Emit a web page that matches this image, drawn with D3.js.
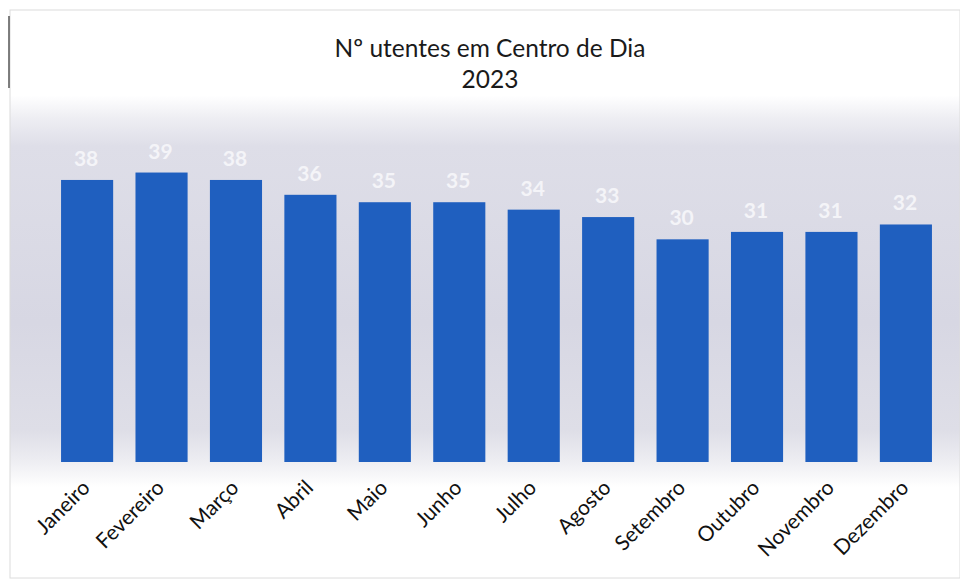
<!DOCTYPE html>
<html>
<head>
<meta charset="utf-8">
<script src="https://cdn.jsdelivr.net/npm/d3@7"></script>
<style>
  html, body { margin: 0; padding: 0; background: #ffffff; }
  svg { display: block; }
</style>
</head>
<body>
<svg id="chart" width="960" height="582"></svg>
<script>
const months = ["Janeiro","Fevereiro","Março","Abril","Maio","Junho","Julho","Agosto","Setembro","Outubro","Novembro","Dezembro"];
const values = [38,39,38,36,35,35,34,33,30,31,31,32];
const titleLines = ["Nº utentes em Centro de Dia","2023"];

const W = 960, H = 582;
const svg = d3.select("#chart");
const font = "Lato, 'Open Sans', 'Liberation Sans', sans-serif";

const defs = svg.append("defs");
const grad = defs.append("linearGradient").attr("id","bg").attr("x1",0).attr("y1",0).attr("x2",0).attr("y2",1);
[[0,"#ffffff"],[0.15,"#ffffff"],[0.19,"#eeeef3"],[0.24,"#dedee8"],[0.55,"#d7d7e3"],[0.74,"#dedee7"],[0.79,"#ececf1"],[0.84,"#ffffff"],[1,"#ffffff"]]
  .forEach(([o,c]) => grad.append("stop").attr("offset",o).attr("stop-color",c));

svg.append("rect").attr("x",10).attr("y",10).attr("width",W-10).attr("height",H-14)
  .attr("fill","url(#bg)").attr("stroke","#dcdcdc").attr("stroke-width",1);
svg.append("line").attr("x1",9).attr("x2",9).attr("y1",16).attr("y2",88)
  .attr("stroke","#555").attr("stroke-width",1.5);

const x = d3.scaleBand().domain(months).range([35, 958]).paddingInner(0.3).paddingOuter(0.35);
const y = d3.scaleLinear().domain([0, 45]).range([462, 128]);

svg.append("g").selectAll("rect").data(values).join("rect")
  .attr("x",(d,i)=>x(months[i]))
  .attr("y",d=>y(d))
  .attr("width",x.bandwidth())
  .attr("height",d=>y(0)-y(d))
  .attr("fill","#1f5fbf");

svg.append("g").selectAll("text").data(values).join("text")
  .attr("x",(d,i)=>x(months[i])+x.bandwidth()/2 - 1)
  .attr("y",d=>y(d)-14)
  .attr("text-anchor","middle")
  .attr("font-family",font).attr("font-weight","bold").attr("font-size",21)
  .attr("fill","#f4f4f8")
  .text(d=>d);

svg.append("g").selectAll("text").data(months).join("text")
  .attr("transform",m=>`translate(${x(m)+x.bandwidth()/2+4},${489}) rotate(-45)`)
  .attr("text-anchor","end")
  .attr("font-family",font).attr("font-size",21)
  .attr("fill","#111")
  .text(m=>m);

svg.append("g").selectAll("text").data(titleLines).join("text")
  .attr("x",490).attr("y",(d,i)=>57+i*31)
  .attr("text-anchor","middle")
  .attr("font-family",font).attr("font-size",24.5)
  .attr("fill","#1a1a1a")
  .text(d=>d);
</script>
</body>
</html>
